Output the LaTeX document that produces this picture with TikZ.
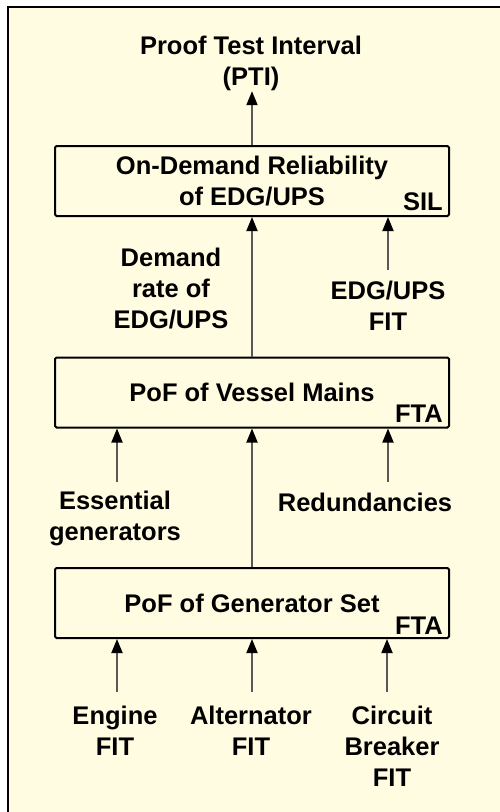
\documentclass[tikz,border=0pt]{standalone}
\usepackage{fontspec}
\setmainfont{Liberation Sans}
\usetikzlibrary{arrows.meta}
\definecolor{cream}{HTML}{FFFCE1}
\begin{document}
\begin{tikzpicture}[x=1pt,y=-1pt,
  every node/.style={font=\fontsize{25.5}{31}\selectfont\bfseries, inner sep=0pt},
  box/.style={draw=black, line width=2pt, rounded corners=1.5pt,
    minimum width=394pt, minimum height=70pt, align=center},
  lbl/.style={align=center, anchor=north},
  tag/.style={anchor=base east},
  arr/.style={draw=black!65, line width=1.8pt,
    -{Triangle[length=14pt,width=11pt,color=black]}}]

% page and frame
\useasboundingbox (0,0) rectangle (499,812);
\fill[white] (0,0) rectangle (499,812);
\fill[cream] (8,7) rectangle (503,816);
\draw[line width=2.5pt] (8,816) -- (8,7) -- (503,7);

% boxes
\node[box] (b1) at (252,181) {On-Demand Reliability\\of EDG/UPS};
\node[box] (b2) at (252,392.5) {PoF of Vessel Mains};
\node[box] (b3) at (252,603) {PoF of Generator Set};
\node[tag] (sil)  at ([xshift=-7pt,yshift=7pt]b1.south east) {SIL};
\node[tag] (fta2) at ([xshift=-7pt,yshift=6pt]b2.south east) {FTA};
\node[tag] (fta3) at ([xshift=-7pt,yshift=5pt]b3.south east) {FTA};

% labels
\node[lbl] (pti) at (251,36) {Proof Test Interval\\(PTI)};
\node[lbl] (dem) at (171,248) {Demand\\rate of\\EDG/UPS};
\node[lbl] (edgfit) at (388,281) {EDG/UPS\\FIT};
\node[lbl] (ess) at (115,491) {Essential\\generators};
\node[lbl] (red) at (365,493) {Redundancies};
\node[lbl] (eng) at (115,706) {Engine\\FIT};
\node[lbl] (alt) at (251,706) {Alternator\\FIT};
\node[lbl] (cb)  at (392,706) {Circuit\\Breaker\\FIT};

% arrow tails
\coordinate (edgtail) at (388,270);
\coordinate (esstail) at (117,482);
\coordinate (redtail) at (388,482);
\coordinate (engtail) at (117,692);
\coordinate (alttail) at (252,692);
\coordinate (cbtail)  at (387,692);

% connectors
\draw[arr] (b1.north) -- (b1.north |- pti.south);
\draw[arr] (b2.north) -- (b1.south);
\draw[arr] (edgtail) -- (edgtail |- b1.south);
\draw[arr] (b3.north) -- (b2.south);
\draw[arr] (esstail) -- (esstail |- b2.south);
\draw[arr] (redtail) -- (redtail |- b2.south);
\draw[arr] (engtail) -- (engtail |- b3.south);
\draw[arr] (alttail) -- (alttail |- b3.south);
\draw[arr] (cbtail)  -- (cbtail |- b3.south);
\end{tikzpicture}
\end{document}
